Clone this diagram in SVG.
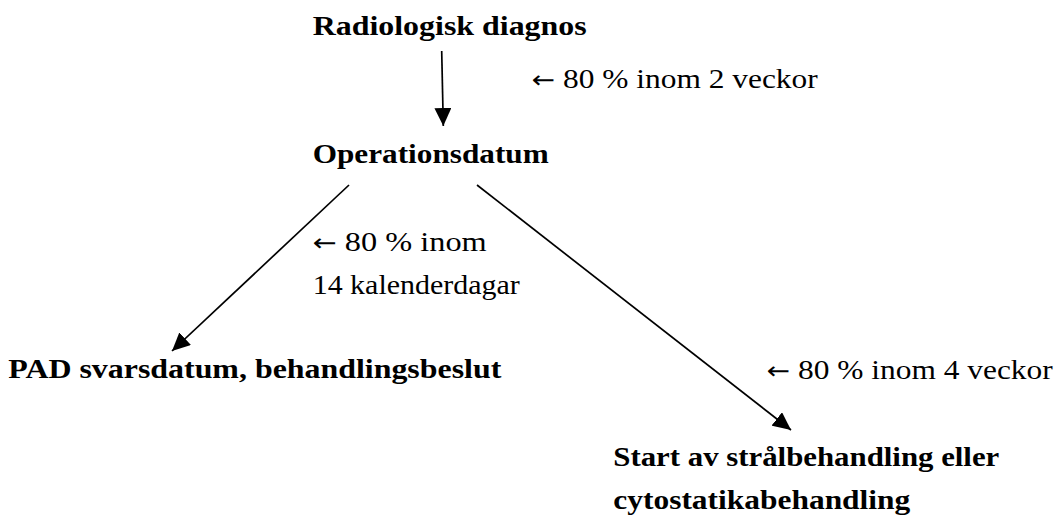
<svg xmlns="http://www.w3.org/2000/svg" width="1061" height="515" viewBox="0 0 1061 515">
  <style>
    text { font-family: "Liberation Serif", "Times New Roman", serif; font-size: 27px; fill: #000; }
    .node { font-weight: bold; }
    .arr { font-family: "DejaVu Sans", sans-serif; font-size: 24px; }
    .edge { stroke: #000; stroke-width: 1.7; fill: none; marker-end: url(#head); }
  </style>
  <defs>
    <marker id="head" markerUnits="userSpaceOnUse" markerWidth="18" markerHeight="17" refX="18" refY="8.5" orient="auto">
      <path d="M0,0 L18,8.5 L0,17 Z" fill="#000"/>
    </marker>
  </defs>
  <rect width="1061" height="515" fill="#fff"/>

  <g id="connectors">
    <line class="edge" x1="441.7" y1="51" x2="443.3" y2="126"/>
    <line class="edge" x1="349" y1="185" x2="172" y2="351"/>
    <line class="edge" x1="477" y1="185" x2="791" y2="430"/>
  </g>

  <g id="radiologisk-diagnos">
    <text class="node" x="312.7" y="35" textLength="274" lengthAdjust="spacingAndGlyphs">Radiologisk diagnos</text>
  </g>
  <g id="operationsdatum">
    <text class="node" x="312.7" y="163" textLength="236" lengthAdjust="spacingAndGlyphs">Operationsdatum</text>
  </g>
  <g id="pad-svarsdatum">
    <text class="node" x="8.3" y="378" textLength="493" lengthAdjust="spacingAndGlyphs">PAD svarsdatum, behandlingsbeslut</text>
  </g>
  <g id="start-behandling">
    <text class="node" x="613.3" y="466" textLength="386" lengthAdjust="spacingAndGlyphs">Start av strålbehandling eller</text>
    <text class="node" x="613.3" y="509" textLength="297" lengthAdjust="spacingAndGlyphs">cytostatikabehandling</text>
  </g>

  <g id="labels">
    <text x="531.7" y="88" textLength="286" lengthAdjust="spacingAndGlyphs"><tspan class="arr">←</tspan> 80 % inom 2 veckor</text>
    <text x="312.7" y="251" textLength="174" lengthAdjust="spacingAndGlyphs"><tspan class="arr">←</tspan> 80 % inom</text>
    <text x="312.7" y="294" textLength="207" lengthAdjust="spacingAndGlyphs">14 kalenderdagar</text>
    <text x="766.7" y="379" textLength="286" lengthAdjust="spacingAndGlyphs"><tspan class="arr">←</tspan> 80 % inom 4 veckor</text>
  </g>
</svg>
